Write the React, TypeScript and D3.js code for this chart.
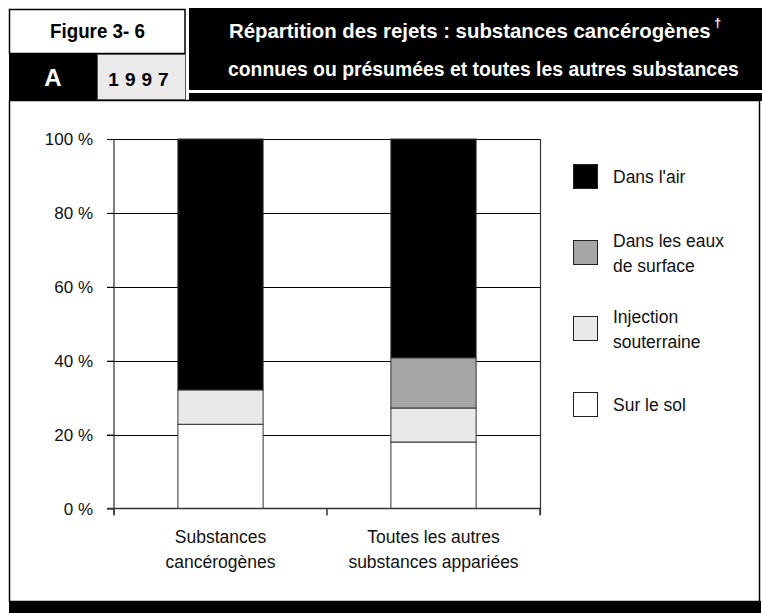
import React, { useEffect, useRef } from 'react';
import * as d3 from 'd3';

// Data
const categories = ['Substances\ncancérogènes', 'Toutes les autres\nsubstances appariées'];
const surLeSol = [22.8, 18.0];
const injection = [9.3, 9.2];
const eauxSurface = [0.0, 13.6];
const air = [67.9, 59.2];
const yTicks = [0, 20, 40, 60, 80, 100];
const legendLabels = [["Dans l'air"], ['Dans les eaux', 'de surface'], ['Injection', 'souterraine'], ['Sur le sol']];
const seriesColors = ['#ffffff', '#e9e9e9', '#a6a6a6', '#000000'];
const legendColors = ['#000000', '#a6a6a6', '#e9e9e9', '#ffffff'];

function App() {
  const ref = useRef<SVGSVGElement>(null);

  useEffect(() => {
    if (!ref.current) return;
    const svg = d3.select(ref.current);
    svg.selectAll('*').remove();

    const sans = "'Liberation Sans', Arial, sans-serif";

    // condensed bold text: squeeze horizontally to a target width
    const narrowText = (txt: string, x: number, y: number, w: number, size: number, fill: string) => {
      const g = svg.append('g');
      const t = g.append('text').attr('x', 0).attr('y', 0)
        .style('font-family', sans).style('font-weight', 'bold').style('font-size', `${size}px`).style('fill', fill)
        .text(txt);
      const natural = (t.node() as SVGTextElement).getComputedTextLength() || w;
      g.attr('transform', `translate(${x},${y}) scale(${w / natural},1)`);
    };

    // ---------- header ----------
    // main panel frame
    svg.append('rect').attr('x', 9.5).attr('y', 100.5).attr('width', 750).attr('height', 501)
      .attr('fill', '#fff').attr('stroke', '#000').attr('stroke-width', 1.5);
    svg.append('rect').attr('x', 9).attr('y', 601).attr('width', 752).attr('height', 12).attr('fill', '#000');

    // "Figure 3- 6" box
    svg.append('rect').attr('x', 9.5).attr('y', 9.5).attr('width', 175.5).attr('height', 44)
      .attr('fill', '#fff').attr('stroke', '#000').attr('stroke-width', 1.5);
    narrowText('Figure 3- 6', 50, 38, 95, 21, '#000');

    // "A" box
    svg.append('rect').attr('x', 9).attr('y', 53).attr('width', 88).attr('height', 48).attr('fill', '#000');
    svg.append('text').attr('x', 53).attr('y', 86).attr('text-anchor', 'middle')
      .style('font-family', sans).style('font-weight', 'bold').style('font-size', '24px').style('fill', '#fff')
      .text('A');

    // "1997" box
    svg.append('rect').attr('x', 97.5).attr('y', 54.5).attr('width', 88).attr('height', 45)
      .attr('fill', '#ebebeb').attr('stroke', '#555').attr('stroke-width', 1);
    svg.append('text').attr('x', 141.5).attr('y', 86).attr('text-anchor', 'middle')
      .style('font-family', sans).style('font-weight', 'bold').style('font-size', '19px')
      .style('letter-spacing', '6px')
      .text('1997');

    // title box
    svg.append('rect').attr('x', 189).attr('y', 8).attr('width', 573).attr('height', 82).attr('fill', '#000');
    svg.append('rect').attr('x', 189).attr('y', 93).attr('width', 573).attr('height', 8).attr('fill', '#000');
    narrowText('Répartition des rejets : substances cancérogènes', 229, 38, 482, 21, '#fff');
    svg.append('text').attr('x', 714).attr('y', 27)
      .style('font-family', sans).style('font-weight', 'bold').style('font-size', '13px').style('fill', '#fff')
      .text('†');
    narrowText('connues ou présumées et toutes les autres substances', 228, 76, 511, 21, '#fff');

    // ---------- chart ----------
    const x0 = 114, x1 = 540, yTop = 139, yBot = 508.5;
    const x = d3.scaleBand<string>().domain(categories).range([x0, x1]).paddingInner(0.6).paddingOuter(0.3);
    const y = d3.scaleLinear().domain([0, 100]).range([yBot, yTop]);

    // gridlines
    svg.append('g').selectAll('line').data(yTicks.filter(d => d > 0)).enter().append('line')
      .attr('x1', x0 - 7).attr('x2', x1)
      .attr('y1', d => Math.round(y(d)) + 0.5).attr('y2', d => Math.round(y(d)) + 0.5)
      .attr('stroke', '#000').attr('stroke-width', 1);

    // stacked bars
    const rows = categories.map((c, i) => ({
      cat: c,
      s0: surLeSol[i], s1: injection[i], s2: eauxSurface[i], s3: air[i],
    }));
    const layers = d3.stack<any>().keys(['s0', 's1', 's2', 's3'])(rows);
    layers.forEach((layer, li) => {
      svg.append('g').selectAll('rect').data(layer).enter().append('rect')
        .attr('x', d => x(d.data.cat)!)
        .attr('width', x.bandwidth())
        .attr('y', d => y(Math.min(100, d[1])))
        .attr('height', d => Math.max(0, y(d[0]) - y(Math.min(100, d[1]))))
        .attr('fill', seriesColors[li])
        .attr('stroke', '#333').attr('stroke-width', 1);
    });

    // right frame line
    svg.append('line').attr('x1', x1 + 0.5).attr('x2', x1 + 0.5).attr('y1', yTop).attr('y2', yBot + 6)
      .attr('stroke', '#333').attr('stroke-width', 1.2);

    // y axis
    const yAxis = svg.append('g').attr('transform', `translate(${x0},0)`)
      .call(d3.axisLeft(y).tickValues(yTicks).tickSize(7).tickFormat(d => `${d} %`));
    yAxis.select('.domain').attr('stroke', '#555').attr('stroke-width', 1.5).attr('d', `M0,${yTop}V${yBot + 6}`);
    yAxis.selectAll('.tick line').attr('stroke', '#000');
    yAxis.selectAll('.tick text').attr('x', -21).attr('dy', '0.35em')
      .style('font-family', sans).style('font-size', '17px').style('fill', '#111');

    // x axis
    svg.append('line').attr('x1', x0 - 7).attr('x2', x1).attr('y1', yBot).attr('y2', yBot)
      .attr('stroke', '#333').attr('stroke-width', 1.5);
    const mid = (x(categories[0])! + x(categories[1])! + x.bandwidth()) / 2;
    [x0, mid, x1].forEach(px => {
      svg.append('line').attr('x1', px).attr('x2', px).attr('y1', yBot).attr('y2', yBot + 7)
        .attr('stroke', '#333').attr('stroke-width', 1.5);
    });

    categories.forEach(c => {
      const t = svg.append('text').attr('text-anchor', 'middle')
        .style('font-family', sans).style('font-size', '17.5px').style('fill', '#111');
      c.split('\n').forEach((l, i) => {
        t.append('tspan').attr('x', x(c)! + x.bandwidth() / 2).attr('y', 543 + i * 25).text(l);
      });
    });

    // ---------- legend ----------
    legendLabels.forEach((lab, i) => {
      const gy = 164 + i * 76;
      svg.append('rect').attr('x', 573.5).attr('y', gy + 0.5).attr('width', 24).attr('height', 24)
        .attr('fill', legendColors[i]).attr('stroke', '#222').attr('stroke-width', 1);
      const t = svg.append('text').style('font-family', sans).style('font-size', '17.5px').style('fill', '#111');
      const base = lab.length === 1 ? gy + 19 : gy + 7;
      lab.forEach((l, j) => {
        t.append('tspan').attr('x', 613).attr('y', base + j * 25).text(l);
      });
    });
  }, []);

  return (
    <svg ref={ref} width={762} height={613}
      style={{ position: 'absolute', left: 0, top: 0, background: '#fff' }} />
  );
}

export default App;
